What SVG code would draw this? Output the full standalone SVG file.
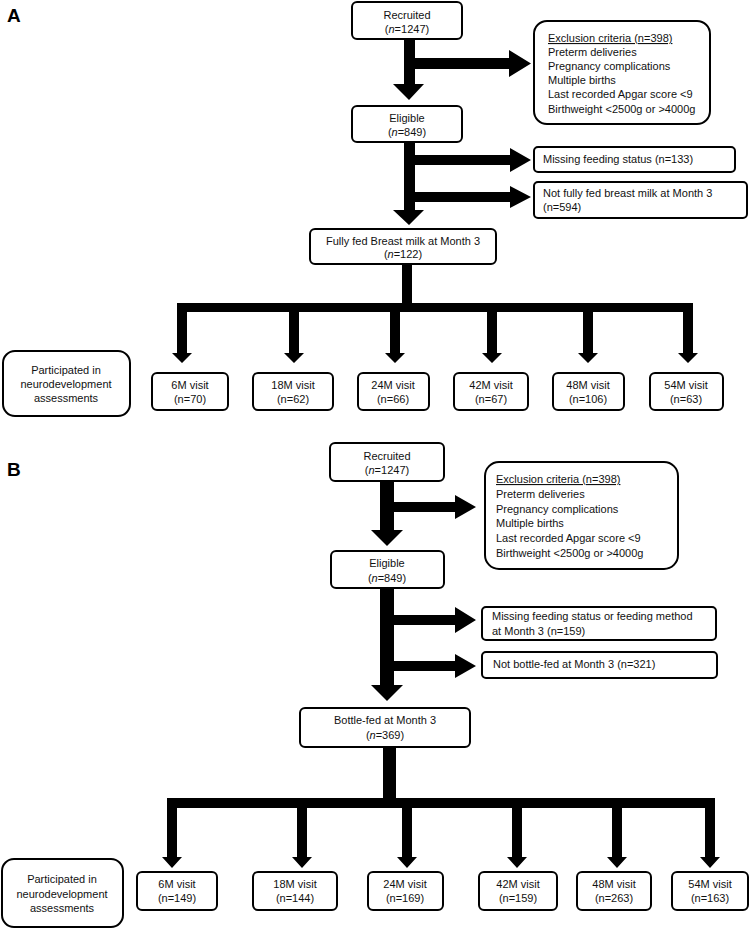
<svg xmlns="http://www.w3.org/2000/svg" width="750" height="930" viewBox="0 0 750 930">
<style>
.box{fill:#fff;stroke:#000;stroke-width:2}
.t{font-family:"Liberation Sans",Arial,sans-serif;font-size:11px;fill:#111}
.c{text-anchor:middle}
.lbl{font-family:"Liberation Sans",Arial,sans-serif;font-size:19px;font-weight:bold;fill:#000}
.arr{fill:#000}
</style>
<rect width="750" height="930" fill="#fff"/>
<text class="lbl" x="7" y="22">A</text>
<text class="lbl" x="7" y="476">B</text>

<g id="connectors">
  <!-- Panel A -->
  <path class="arr" d="M404,39H415V84H424L409,100L393,84H404Z"/>
  <path class="arr" d="M415,58H509V50L531,63.5L509,77V69H415Z"/>
  <path class="arr" d="M404,142H415V210H424L409,225L393,210H404Z"/>
  <path class="arr" d="M415,155H510V148L531,160L510,172V165H415Z"/>
  <path class="arr" d="M415,192H510V186L531,197L510,208V202H415Z"/>
  <path class="arr" d="M402,264H412V303H693V353H698L688,363L678,353H683V312H593V353H598L588,363L578,353H583V312H497V353H502L492,363L482,353H487V312H400V353H405L395,363L385,353H390V312H299V353H304L294,363L284,353H289V312H187V353H192L182,363L172,353H177V303H402Z"/>
  <!-- Panel B -->
  <path class="arr" d="M380,481H394V530H403L387,546L371,530H380Z"/>
  <path class="arr" d="M394,502H455V495L476,507L455,519V512H394Z"/>
  <path class="arr" d="M380,588H394V685H403L387,701L371,685H380Z"/>
  <path class="arr" d="M394,615H455V607L476,620L455,633V625H394Z"/>
  <path class="arr" d="M394,661H455V654L476,666L455,678V671H394Z"/>
  <path class="arr" d="M383,747H396V798H715V857H720L710,868L700,857H705V808H622V857H627L617,868L607,857H612V808H522V857H527L517,868L507,857H512V808H412V857H417L407,868L397,857H402V808H307V857H312L302,868L292,857H297V808H177V857H182L172,868L162,857H167V798H383Z"/>
</g>

<!-- Panel A nodes -->
<g id="a-recruited">
  <rect class="box" x="352" y="2" width="110" height="37" rx="5"/>
  <text class="t c" x="407" y="19">Recruited</text>
  <text class="t c" x="407" y="33">(<tspan font-style="italic">n</tspan>=1247)</text>
</g>
<g id="a-exclusion">
  <rect class="box" x="534" y="21" width="176" height="103" rx="13"/>
  <text class="t" x="548" y="42" text-decoration="underline">Exclusion criteria (n=398)</text>
  <text class="t" x="548" y="56">Preterm deliveries</text>
  <text class="t" x="548" y="70">Pregnancy complications</text>
  <text class="t" x="548" y="84">Multiple births</text>
  <text class="t" x="548" y="98">Last recorded  Apgar score &lt;9</text>
  <text class="t" x="548" y="113">Birthweight &lt;2500g or &gt;4000g</text>
</g>
<g id="a-eligible">
  <rect class="box" x="352" y="106" width="110" height="36" rx="5"/>
  <text class="t c" x="407" y="122">Eligible</text>
  <text class="t c" x="407" y="136">(<tspan font-style="italic">n</tspan>=849)</text>
</g>
<g id="a-missing">
  <rect class="box" x="534" y="147" width="201" height="25" rx="4"/>
  <text class="t" x="543" y="163">Missing feeding status (n=133)</text>
</g>
<g id="a-notfully">
  <rect class="box" x="534" y="182" width="213" height="36" rx="4"/>
  <text class="t" x="543" y="197">Not fully fed breast milk at Month 3</text>
  <text class="t" x="543" y="211">(n=594)</text>
</g>
<g id="a-fullyfed">
  <rect class="box" x="310" y="229" width="186" height="35" rx="5"/>
  <text class="t c" x="403" y="245">Fully fed Breast milk at Month 3</text>
  <text class="t c" x="403" y="258">(<tspan font-style="italic">n</tspan>=122)</text>
</g>
<g id="a-participated">
  <rect class="box" x="3" y="351" width="127" height="65" rx="12"/>
  <text class="t c" x="66" y="374">Participated in</text>
  <text class="t c" x="66" y="388">neurodevelopment</text>
  <text class="t c" x="66" y="402">assessments</text>
</g>
<g id="a-6m">
  <rect class="box" x="152" y="373" width="76" height="37" rx="5"/>
  <text class="t c" x="190" y="389">6M visit</text>
  <text class="t c" x="190" y="403">(n=70)</text>
</g>
<g id="a-18m">
  <rect class="box" x="253" y="373" width="80" height="37" rx="5"/>
  <text class="t c" x="293" y="389">18M visit</text>
  <text class="t c" x="293" y="403">(n=62)</text>
</g>
<g id="a-24m">
  <rect class="box" x="358" y="373" width="71" height="37" rx="5"/>
  <text class="t c" x="393" y="389">24M visit</text>
  <text class="t c" x="393" y="403">(n=66)</text>
</g>
<g id="a-42m">
  <rect class="box" x="454" y="373" width="74" height="37" rx="5"/>
  <text class="t c" x="491" y="389">42M visit</text>
  <text class="t c" x="491" y="403">(n=67)</text>
</g>
<g id="a-48m">
  <rect class="box" x="553" y="373" width="71" height="37" rx="5"/>
  <text class="t c" x="588" y="389">48M visit</text>
  <text class="t c" x="588" y="403">(n=106)</text>
</g>
<g id="a-54m">
  <rect class="box" x="650" y="373" width="73" height="37" rx="5"/>
  <text class="t c" x="686" y="389">54M visit</text>
  <text class="t c" x="686" y="403">(n=63)</text>
</g>

<!-- Panel B nodes -->
<g id="b-recruited">
  <rect class="box" x="330" y="443" width="114" height="38" rx="5"/>
  <text class="t c" x="387" y="460">Recruited</text>
  <text class="t c" x="387" y="474">(<tspan font-style="italic">n</tspan>=1247)</text>
</g>
<g id="b-exclusion">
  <rect class="box" x="485" y="462" width="193" height="107" rx="14"/>
  <text class="t" x="496" y="483" text-decoration="underline">Exclusion criteria (n=398)</text>
  <text class="t" x="496" y="498">Preterm deliveries</text>
  <text class="t" x="496" y="513">Pregnancy complications</text>
  <text class="t" x="496" y="527">Multiple births</text>
  <text class="t" x="496" y="542">Last recorded  Apgar score &lt;9</text>
  <text class="t" x="496" y="557">Birthweight &lt;2500g or &gt;4000g</text>
</g>
<g id="b-eligible">
  <rect class="box" x="331" y="551" width="113" height="37" rx="5"/>
  <text class="t c" x="387" y="567">Eligible</text>
  <text class="t c" x="387" y="582">(<tspan font-style="italic">n</tspan>=849)</text>
</g>
<g id="b-missing">
  <rect class="box" x="482" y="607" width="234" height="33" rx="4"/>
  <text class="t" x="492" y="620">Missing feeding status or feeding method</text>
  <text class="t" x="492" y="635">at Month 3 (n=159)</text>
</g>
<g id="b-notbottle">
  <rect class="box" x="482" y="652" width="235" height="26" rx="4"/>
  <text class="t" x="493" y="668">Not bottle-fed at Month 3 (n=321)</text>
</g>
<g id="b-bottlefed">
  <rect class="box" x="300" y="708" width="170" height="39" rx="5"/>
  <text class="t c" x="385" y="724">Bottle-fed  at Month 3</text>
  <text class="t c" x="385" y="739">(<tspan font-style="italic">n</tspan>=369)</text>
</g>
<g id="b-participated">
  <rect class="box" x="2" y="859" width="121" height="68" rx="12"/>
  <text class="t c" x="62" y="883">Participated in</text>
  <text class="t c" x="62" y="898">neurodevelopment</text>
  <text class="t c" x="62" y="912">assessments</text>
</g>
<g id="b-6m">
  <rect class="box" x="137" y="872" width="80" height="38" rx="5"/>
  <text class="t c" x="177" y="888">6M visit</text>
  <text class="t c" x="177" y="902">(n=149)</text>
</g>
<g id="b-18m">
  <rect class="box" x="253" y="872" width="84" height="38" rx="5"/>
  <text class="t c" x="295" y="888">18M visit</text>
  <text class="t c" x="295" y="902">(n=144)</text>
</g>
<g id="b-24m">
  <rect class="box" x="368" y="872" width="75" height="38" rx="5"/>
  <text class="t c" x="405" y="888">24M visit</text>
  <text class="t c" x="405" y="902">(n=169)</text>
</g>
<g id="b-42m">
  <rect class="box" x="479" y="872" width="78" height="38" rx="5"/>
  <text class="t c" x="518" y="888">42M visit</text>
  <text class="t c" x="518" y="902">(n=159)</text>
</g>
<g id="b-48m">
  <rect class="box" x="577" y="872" width="74" height="38" rx="5"/>
  <text class="t c" x="614" y="888">48M visit</text>
  <text class="t c" x="614" y="902">(n=263)</text>
</g>
<g id="b-54m">
  <rect class="box" x="672" y="872" width="76" height="38" rx="5"/>
  <text class="t c" x="710" y="888">54M visit</text>
  <text class="t c" x="710" y="902">(n=163)</text>
</g>
</svg>
